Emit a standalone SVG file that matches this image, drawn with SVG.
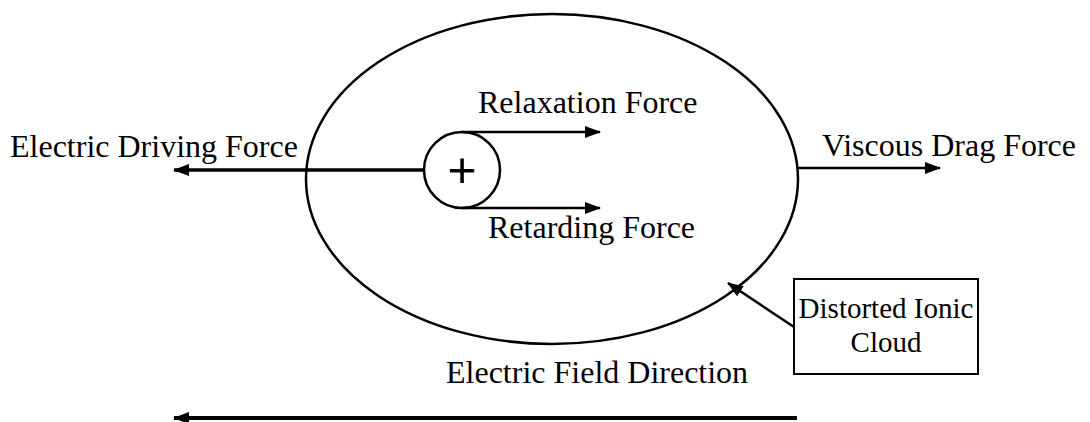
<svg xmlns="http://www.w3.org/2000/svg" width="1090" height="422" viewBox="0 0 1090 422">
<style>
text{font-family:"Liberation Serif","Times New Roman",serif;font-size:32px;fill:#000}
.ln{stroke:#000;fill:none}
.box-t{font-size:29px}
</style>
<defs>
<marker id="ah" viewBox="0 0 16 12" refX="15" refY="6" markerWidth="16" markerHeight="12" markerUnits="userSpaceOnUse" orient="auto"><path d="M0,0 L16,6 L0,12 z" fill="#000"/></marker>
</defs>
<rect width="1090" height="422" fill="#fff"/>
<g id="cloud"><ellipse cx="552" cy="179" rx="246" ry="165" class="ln" stroke-width="2.5"/></g>
<g id="ion"><circle cx="462" cy="170" r="38" fill="#fff" class="ln" stroke-width="2.5"/><text x="462" y="187" text-anchor="middle" style="font-family:'Liberation Sans',sans-serif;font-size:50px">+</text></g>
<g id="connectors">
<line x1="424" y1="170" x2="174" y2="170" class="ln" stroke-width="3.5" marker-end="url(#ah)"/>
<line x1="462" y1="132" x2="600" y2="132" class="ln" stroke-width="2.5" marker-end="url(#ah)"/>
<line x1="462" y1="208" x2="600" y2="208" class="ln" stroke-width="2.5" marker-end="url(#ah)"/>
<line x1="798" y1="168" x2="940" y2="168" class="ln" stroke-width="2.5" marker-end="url(#ah)"/>
<line x1="794" y1="327" x2="728" y2="283" class="ln" stroke-width="2.5" marker-end="url(#ah)"/>
<line x1="797" y1="418" x2="174" y2="418" class="ln" stroke-width="4" marker-end="url(#ah)"/>
</g>
<g id="label-driving"><text x="10" y="157">Electric Driving Force</text></g>
<g id="label-relax"><text x="478" y="113">Relaxation Force</text></g>
<g id="label-retard"><text x="488" y="238">Retarding Force</text></g>
<g id="label-viscous"><text x="822" y="156">Viscous Drag Force</text></g>
<g id="box"><rect x="794" y="279" width="184" height="95" class="ln" stroke-width="2" fill="#fff"/>
<text class="box-t" x="886" y="318" text-anchor="middle">Distorted Ionic</text><text class="box-t" x="886" y="352" text-anchor="middle">Cloud</text></g>
<g id="label-field"><text x="446" y="383">Electric Field Direction</text></g>
</svg>
